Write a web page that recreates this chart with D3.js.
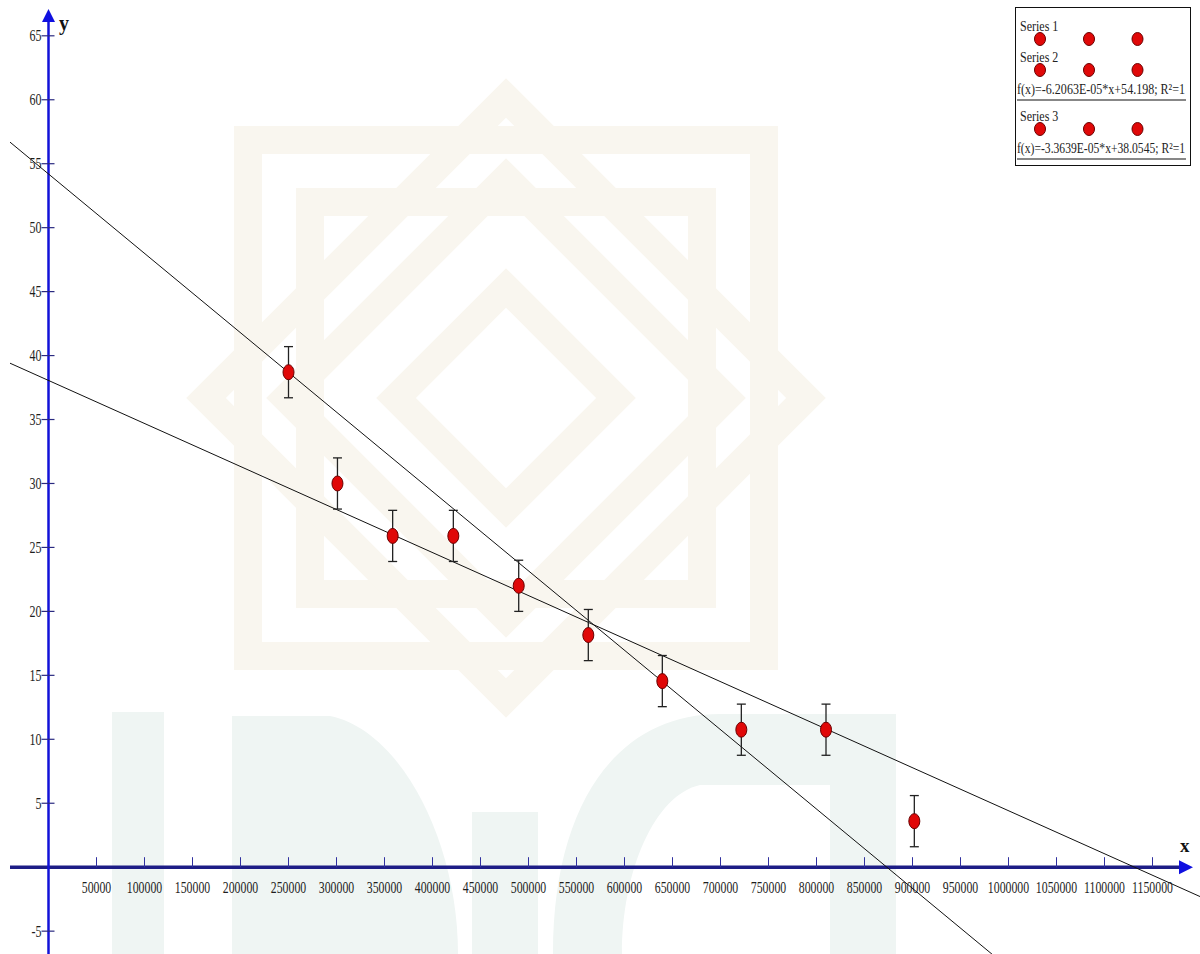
<!DOCTYPE html>
<html>
<head>
<meta charset="utf-8">
<title>fit</title>
<script src="https://d3js.org/d3.v7.min.js"></script>
<style>
  html, body { margin: 0; padding: 0; background: #fff; }
  svg { display: block; font-family: 'Liberation Serif', 'Times New Roman', serif; }
</style>
</head>
<body>
<div id="chart"></div>
<script>
// data
const xVals = [250000, 301000, 358500, 421700, 489800, 562300, 639400, 721700, 809900, 901900]
const yVals = [38.7, 30.0, 25.9, 25.9, 22.0, 18.15, 14.55, 10.75, 10.75, 3.6]
const yErr  = [2, 2, 2, 2, 2, 2, 2, 2, 2, 2]

// fitted lines from the legend: slope, intercept
const fitSlopes = [-6.2063e-05, -3.3639e-05]
const fitIntercepts = [54.198, 38.0545]

const xTicks = [50000, 100000, 150000, 200000, 250000, 300000, 350000, 400000, 450000, 500000,
  550000, 600000, 650000, 700000, 750000, 800000, 850000, 900000, 950000, 1000000,
  1050000, 1100000, 1150000]
const yTicks = [65, 60, 55, 50, 45, 40, 35, 30, 25, 20, 15, 10, 5, -5]

const legendNames = ['Series 1', 'Series 2', 'Series 3']
const legendFormulas = [null, 'f(x)=-6.2063E-05*x+54.198; R²=1', 'f(x)=-3.3639E-05*x+38.0545; R²=1']

const W = 1200, H = 954

const svg = d3.select('#chart').append('svg')
  .attr('width', W).attr('height', H)

svg.append('rect').attr('width', W).attr('height', H).attr('fill', '#fff')

const x = d3.scaleLinear().domain([0, 1150000]).range([48.5, 1152.5])
const y = d3.scaleLinear().domain([0, 65]).range([867.2, 35.8])

// faint watermark behind the plot
function watermark(g) {
  const cx = 506, cy = 398
  const beige = '#f9f6ef'
  ;[258, 196].forEach(h => {
    g.append('rect').attr('x', cx - h).attr('y', cy - h).attr('width', 2 * h).attr('height', 2 * h)
      .attr('fill', 'none').attr('stroke', beige).attr('stroke-width', 28)
  })
  ;[300, 220, 110].forEach(h => {
    g.append('path').attr('d', `M${cx},${cy - h}L${cx + h},${cy}L${cx},${cy + h}L${cx - h},${cy}Z`)
      .attr('fill', 'none').attr('stroke', beige).attr('stroke-width', 28)
  })

  const teal = '#eff5f3'
  g.append('rect').attr('x', 112).attr('y', 712).attr('width', 52).attr('height', 242).attr('fill', teal)
  g.append('path').attr('d', 'M232,954V716H330C400,730 458,840 458,954Z').attr('fill', teal)
  g.append('rect').attr('x', 472).attr('y', 812).attr('width', 66).attr('height', 142).attr('fill', teal)
  g.append('path').attr('d', 'M553,954C553,800 620,714 720,714H896V954H830V785H700C655,795 622,870 622,954Z').attr('fill', teal)
}
watermark(svg.append('g'))

// axes
const axisG = svg.append('g')
axisG.append('line').attr('x1', 10).attr('x2', 1182).attr('y1', y(0)).attr('y2', y(0))
  .attr('stroke', '#1d1d86').attr('stroke-width', 3.5)
axisG.append('path')
  .attr('d', `M1193,${y(0)}L1179,${y(0) - 7}L1179,${y(0) + 7}Z`).attr('fill', '#1010e0')
axisG.append('line').attr('x1', x(0)).attr('x2', x(0)).attr('y1', 20).attr('y2', H)
  .attr('stroke', '#1212d8').attr('stroke-width', 2.5)
axisG.append('path')
  .attr('d', `M${x(0)},9L${x(0) - 6.5},22L${x(0) + 6.5},22Z`).attr('fill', '#1010e0')

axisG.selectAll('.xt').data(xTicks).enter().append('line')
  .attr('x1', d => x(d)).attr('x2', d => x(d))
  .attr('y1', y(0) - 10).attr('y2', y(0))
  .attr('stroke', '#3030a0').attr('stroke-width', 1)

// tall, narrow tick labels: small font stretched vertically
axisG.selectAll('.xl').data(xTicks).enter().append('text')
  .attr('transform', d => `translate(${x(d)},893) scale(1,1.4)`)
  .attr('text-anchor', 'middle')
  .attr('font-size', 11.8).attr('fill', '#1e1e1e')
  .text(d => d)

axisG.selectAll('.yt').data(yTicks).enter().append('line')
  .attr('x1', x(0) - 7).attr('x2', x(0) + 6)
  .attr('y1', d => y(d)).attr('y2', d => y(d))
  .attr('stroke', '#2a2a80').attr('stroke-width', 1.2)

axisG.selectAll('.yl').data(yTicks).enter().append('text')
  .attr('transform', d => `translate(${x(0) - 7},${y(d) + 5.5}) scale(1,1.4)`)
  .attr('text-anchor', 'end')
  .attr('font-size', 12).attr('fill', '#1e1e1e')
  .text(d => d)

axisG.append('text').attr('x', 59).attr('y', 30).attr('font-size', 20).attr('font-weight', 'bold')
  .attr('fill', '#111').text('y')
axisG.append('text').attr('x', 1180).attr('y', 852).attr('font-size', 19).attr('font-weight', 'bold')
  .attr('fill', '#111').text('x')

// fit lines
const xa = x.invert(10), xb = x.invert(1200)
svg.selectAll('.fit').data(fitSlopes).enter().append('line')
  .attr('x1', x(xa)).attr('x2', x(xb))
  .attr('y1', (m, i) => y(m * xa + fitIntercepts[i]))
  .attr('y2', (m, i) => y(m * xb + fitIntercepts[i]))
  .attr('stroke', '#111').attr('stroke-width', 1)

// error bars
const pts = xVals.map((v, i) => ({ x: v, y: yVals[i], e: yErr[i] }))
const eb = svg.append('g').attr('stroke', '#222').attr('stroke-width', 1.3)
eb.selectAll('.ev').data(pts).enter().append('line')
  .attr('x1', d => x(d.x)).attr('x2', d => x(d.x))
  .attr('y1', d => y(d.y + d.e)).attr('y2', d => y(d.y - d.e))
eb.selectAll('.et').data(pts).enter().append('line')
  .attr('x1', d => x(d.x) - 4.5).attr('x2', d => x(d.x) + 4.5)
  .attr('y1', d => y(d.y + d.e)).attr('y2', d => y(d.y + d.e))
eb.selectAll('.eb').data(pts).enter().append('line')
  .attr('x1', d => x(d.x) - 4.5).attr('x2', d => x(d.x) + 4.5)
  .attr('y1', d => y(d.y - d.e)).attr('y2', d => y(d.y - d.e))

svg.selectAll('.pt').data(pts).enter().append('ellipse')
  .attr('cx', d => x(d.x)).attr('cy', d => y(d.y))
  .attr('rx', 5.5).attr('ry', 7.5)
  .attr('fill', '#e00808').attr('stroke', '#6a0000').attr('stroke-width', 1)

// legend
const lg = svg.append('g')
lg.append('rect').attr('x', 1015.5).attr('y', 7.5).attr('width', 175).attr('height', 158)
  .attr('fill', '#fff').attr('stroke', '#111').attr('stroke-width', 1)

const rowTop = [31, 62, 121]
const markX = [1040, 1089, 1137.5]
legendNames.forEach((name, i) => {
  lg.append('text').attr('transform', `translate(1020,${rowTop[i]}) scale(1,1.3)`)
    .attr('font-size', 12).attr('fill', '#222')
    .text(name)
  lg.selectAll('.lm' + i).data(markX).enter().append('ellipse')
    .attr('cx', d => d).attr('cy', rowTop[i] + 8)
    .attr('rx', 5.5).attr('ry', 6.5)
    .attr('fill', '#e00808').attr('stroke', '#6a0000').attr('stroke-width', 1)
  if (legendFormulas[i]) {
    lg.append('text').attr('transform', `translate(1017,${rowTop[i] + 32}) scale(1,1.25)`)
      .attr('font-size', 12).attr('fill', '#222')
      .attr('textLength', 168).attr('lengthAdjust', 'spacingAndGlyphs')
      .text(legendFormulas[i])
    lg.append('line').attr('x1', 1017).attr('x2', 1186)
      .attr('y1', rowTop[i] + 38).attr('y2', rowTop[i] + 38)
      .attr('stroke', '#111').attr('stroke-width', 1.2)
  }
})
</script>
</body>
</html>
